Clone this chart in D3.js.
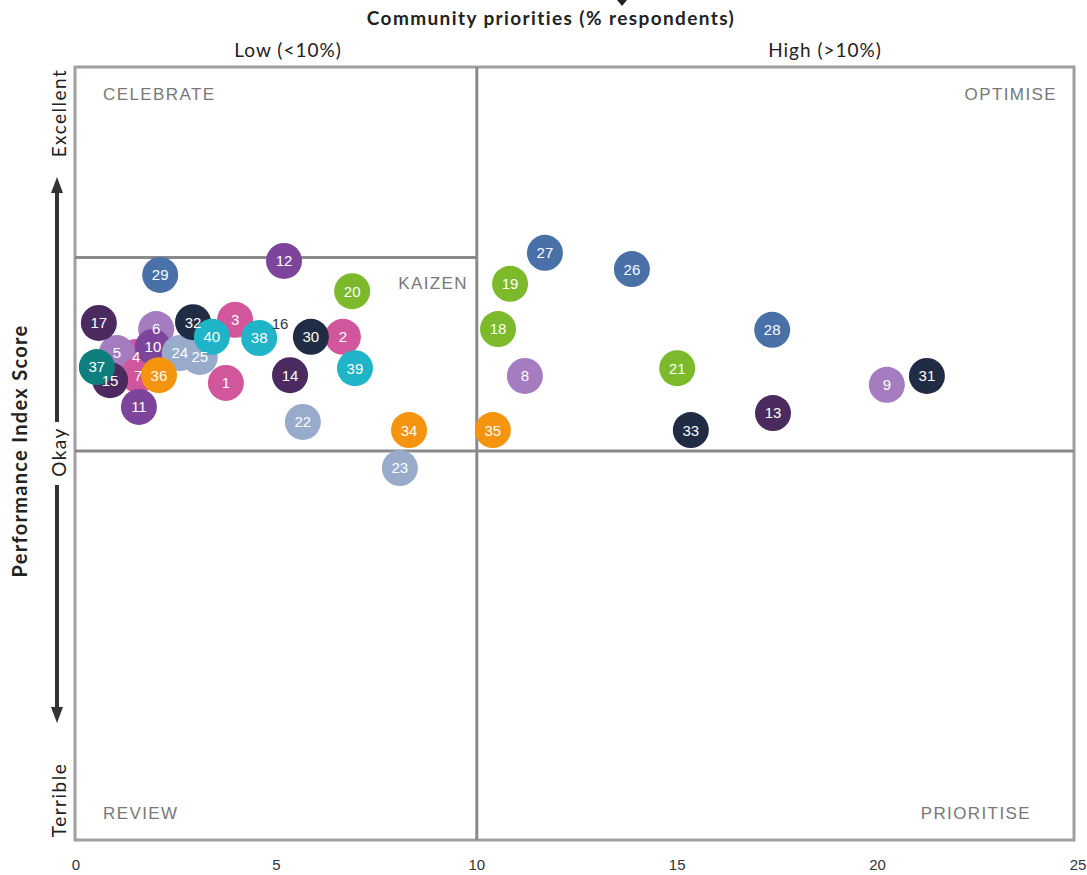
<!DOCTYPE html>
<html><head><meta charset="utf-8">
<script src="https://cdn.jsdelivr.net/npm/d3@7"></script>
<style>body{margin:0;background:#fff}</style>
</head><body>
<svg id="c" width="1087" height="875"></svg>
<script>
const ids = [1,2,3,4,5,6,7,8,9,10,11,12,13,14,15,16,17,18,19,20,21,22,23,24,25,26,27,28,29,30,31,32,33,34,35,36,37,38,39,40];
const priority = [3.74,6.66,3.97,1.50,1.02,2.00,1.55,11.20,20.23,1.92,1.57,5.19,17.39,5.34,0.85,5.09,0.57,10.53,10.83,6.89,15.0,5.66,8.08,2.59,3.09,13.87,11.70,17.37,2.10,5.86,21.23,2.92,15.34,8.31,10.40,2.07,0.52,4.57,6.96,3.39];
const performance = [17.6,29.5,33.9,24.3,25.3,31.5,19.6,19.4,17.1,26.9,11.4,49.1,9.8,19.6,18.3,32.8,33.1,31.5,43.2,41.3,21.4,7.5,-4.4,25.3,24.3,47.0,51.2,31.3,45.5,29.5,19.4,33.3,5.4,5.4,5.4,19.6,21.7,29.2,21.4,29.5];
const group = ["pink","pink","pink","pink","lav","lav","pink","lav","lav","purple","purple","purple","dpurple","dpurple","dpurple","none","dpurple","green","green","green","green","grey","grey","grey","grey","blue","blue","blue","blue","navy","navy","navy","navy","orange","orange","orange","dteal","teal","teal","teal"];
const xTicks = [0,5,10,15,20,25];
const quadrants = ["CELEBRATE","OPTIMISE","REVIEW","PRIORITISE","KAIZEN"];

const colors = {pink:"#d1569b",lav:"#a57cc0",purple:"#7d449c",dpurple:"#4b2a5f",green:"#7cba2b",grey:"#98abcb",blue:"#4a70a8",navy:"#1f2c44",orange:"#f5940f",dteal:"#0f7f7d",teal:"#1fb4c7",none:"none"};

const svg = d3.select("#c");
const x = d3.scaleLinear().domain([0,25]).range([76,1078]);
const y = d3.scaleLinear().domain([-100,100]).range([838,64]);
const box = {l:75, r:1074, t:67, b:840};

svg.append("rect").attr("x",box.l).attr("y",box.t).attr("width",box.r-box.l).attr("height",box.b-box.t)
  .attr("fill","none").attr("stroke","#a0a0a0").attr("stroke-width",3);
svg.append("line").attr("x1",x(10)).attr("x2",x(10)).attr("y1",box.t).attr("y2",box.b).attr("stroke","#8a8a8a").attr("stroke-width",3);
svg.append("line").attr("x1",box.l).attr("x2",box.r).attr("y1",y(0)).attr("y2",y(0)).attr("stroke","#8a8a8a").attr("stroke-width",3);
svg.append("line").attr("x1",box.l).attr("x2",x(10)).attr("y1",y(50)).attr("y2",y(50)).attr("stroke","#8a8a8a").attr("stroke-width",3);

const ql = svg.append("g").attr("font-family","Liberation Sans, Arial, sans-serif").attr("font-size",17)
  .attr("letter-spacing",1.4).attr("fill","#787878");
ql.append("text").attr("x",103).attr("y",100).text(quadrants[0]);
ql.append("text").attr("x",1057).attr("y",100).attr("text-anchor","end").text(quadrants[1]);
ql.append("text").attr("x",103).attr("y",819).text(quadrants[2]);
ql.append("text").attr("x",1031).attr("y",819).attr("text-anchor","end").text(quadrants[3]);
ql.append("text").attr("x",468).attr("y",289).attr("text-anchor","end").text(quadrants[4]);

svg.append("g").selectAll("text").data(xTicks).join("text")
  .attr("x",d=>x(d)).attr("y",870).attr("text-anchor","middle")
  .attr("font-family","Liberation Sans, Arial, sans-serif").attr("font-size",15).attr("fill","#333")
  .text(d=>d);

svg.append("text").attr("x",551).attr("y",25).attr("text-anchor","middle")
  .attr("font-family","Lato, sans-serif").attr("font-weight","bold").attr("font-size",19).attr("letter-spacing",1.4).attr("fill","#222")
  .text("Community priorities (% respondents)");
svg.append("path").attr("d","M617,0 L627,0 L622,6 Z").attr("fill","#222");
svg.append("text").attr("x",288).attr("y",57).attr("text-anchor","middle")
  .attr("font-family","Lato, sans-serif").attr("font-size",19).attr("letter-spacing",1).attr("fill","#222").text("Low (<10%)");
svg.append("text").attr("x",825).attr("y",57).attr("text-anchor","middle")
  .attr("font-family","Lato, sans-serif").attr("font-size",19).attr("letter-spacing",1).attr("fill","#222").text("High (>10%)");

const ya = svg.append("g").attr("font-family","Lato, sans-serif").attr("fill","#222");
ya.append("text").attr("transform","translate(27,451) rotate(-90)").attr("text-anchor","middle")
  .attr("font-size",20).attr("font-weight","bold").attr("letter-spacing",1.3).text("Performance Index Score");
ya.append("text").attr("transform","translate(66,113) rotate(-90)").attr("text-anchor","middle").attr("font-size",19).attr("letter-spacing",1.5).text("Excellent");
ya.append("text").attr("transform","translate(66,452) rotate(-90)").attr("text-anchor","middle").attr("font-size",19).attr("letter-spacing",1.5).text("Okay");
ya.append("text").attr("transform","translate(66,800) rotate(-90)").attr("text-anchor","middle").attr("font-size",19).attr("letter-spacing",1.5).text("Terrible");
svg.append("line").attr("x1",57).attr("x2",57).attr("y1",190).attr("y2",422).attr("stroke","#333").attr("stroke-width",4);
svg.append("path").attr("d","M57,177 L51,193 L63,193 Z").attr("fill","#333");
svg.append("line").attr("x1",57).attr("x2",57).attr("y1",485).attr("y2",710).attr("stroke","#333").attr("stroke-width",4);
svg.append("path").attr("d","M57,723 L51,707 L63,707 Z").attr("fill","#333");

const data = ids.map((id,i)=>({id, px:priority[i], py:performance[i], g:group[i]}));
const r = 18;
svg.append("g").selectAll("circle").data(data).join("circle")
  .attr("cx",d=>x(d.px)).attr("cy",d=>y(d.py)).attr("r",r)
  .attr("fill",d=>colors[d.g]);
svg.append("g").selectAll("text").data(data).join("text")
  .attr("x",d=>x(d.px)).attr("y",d=>y(d.py)).attr("dy","0.36em").attr("text-anchor","middle")
  .attr("font-family","Liberation Sans, Arial, sans-serif").attr("font-size",15)
  .attr("fill",d=>d.g==="none"?"#333":"#fff")
  .text(d=>d.id);
</script>
</body></html>
